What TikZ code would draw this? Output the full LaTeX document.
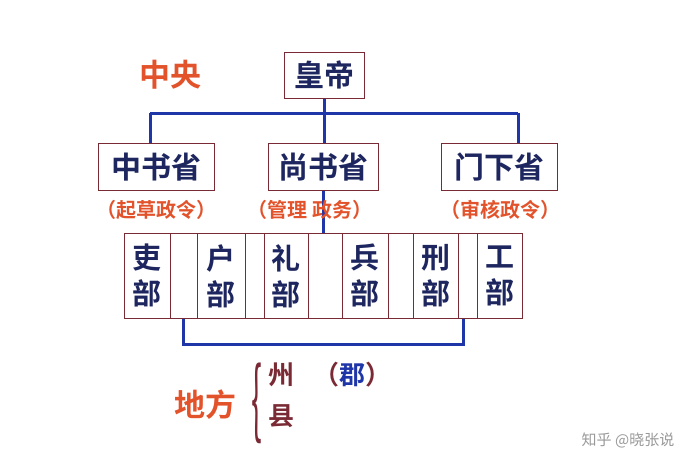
\documentclass[tikz,border=0pt]{standalone}
\usepackage{fontspec}
\setmainfont{Noto Sans CJK SC}[BoldFont={* Bold}]
\usetikzlibrary{positioning}
\begin{document}
\begin{tikzpicture}[x=1pt,y=-1pt]
        %colores
        \definecolor{rojo}{HTML}{E2532B}
        \definecolor{azul}{HTML}{1F36A8}
        \definecolor{marino}{HTML}{1E2660}
        \definecolor{borde}{HTML}{7A2A34}
        \tikzset{
          caja/.style={draw=borde,thick,fill=white,text=marino,font=\bfseries\fontsize{30}{30}\selectfont,inner sep=0pt,anchor=north west},
          nota/.style={text=rojo,font=\bfseries\fontsize{20}{20}\selectfont},
          linea/.style={azul,line width=3pt}
        }
        \useasboundingbox (0,0) rectangle (699,471);
        % lineas
        \draw[linea] (324,98) -- (324,113) (150,113) -- (518,113)
              (150,113) -- (150,143) (518,113) -- (518,143) (324,113) -- (324,143);
        \draw[linea] (323,190) -- (323,233);
        \draw[linea] (183,318) -- (183,344) -- (463,344) -- (463,318);
        % centro
        \node[caja,minimum width=80,minimum height=46] (huangdi) at (284,52) {皇帝};
        \node[caja,minimum width=116,minimum height=47] (zhongshu) at (98,143) {中书省};
        \node[caja,minimum width=110,minimum height=47] (shangshu) at (268,143) {尚书省};
        \node[caja,minimum width=116,minimum height=47] (menxia) at (441,143) {门下省};
        \node[rojo,font=\bfseries\fontsize{31}{31}\selectfont] (zhongyang) at (170,75) {中央};
        \node[nota] (n1) at (156,210) {（起草政令）};
        \node[nota] (n2) at (310,210) {（管理\ 政务）};
        \node[nota] (n3) at (500,210) {（审核政令）};
        % seis ministerios
        \draw[borde,thick,fill=white] (124,233) rectangle (522,318);
        \foreach \a/\b/\t in {124/170/吏,197/245/户,264/308/礼,342/388/兵,413/458/刑,477/522/工}
          \node[caja,minimum width=\b-\a,minimum height=85,align=center,font=\bfseries\fontsize{29}{36}\selectfont] (bu\t) at (\a,233) {\t\\部};
        \draw[borde,thick] (124,233) rectangle (522,318);
        % local
        \node[rojo,font=\bfseries\fontsize{31}{31}\selectfont] (difang) at (205,405) {地方};
        \node[text=borde,font=\fontsize{40}{40}\selectfont,xscale=0.8,yscale=2.1,inner sep=0pt] (llave) at (257,403) {\{};
        \node[text=borde,font=\bfseries\fontsize{26}{26}\selectfont] (zhou) at (281,375) {州};
        \node[font=\bfseries\fontsize{26}{26}\selectfont] (jun) at (352,375) {\textcolor{borde}{（}\textcolor{azul}{郡}\textcolor{borde}{）}};
        \node[text=borde,font=\bfseries\fontsize{26}{26}\selectfont] (xian) at (281,416) {县};
        \node[text=gray!80,font=\fontsize{15}{15}\selectfont] (marca) at (628,440) {知乎 @晓张说};
\end{tikzpicture}
\end{document}
